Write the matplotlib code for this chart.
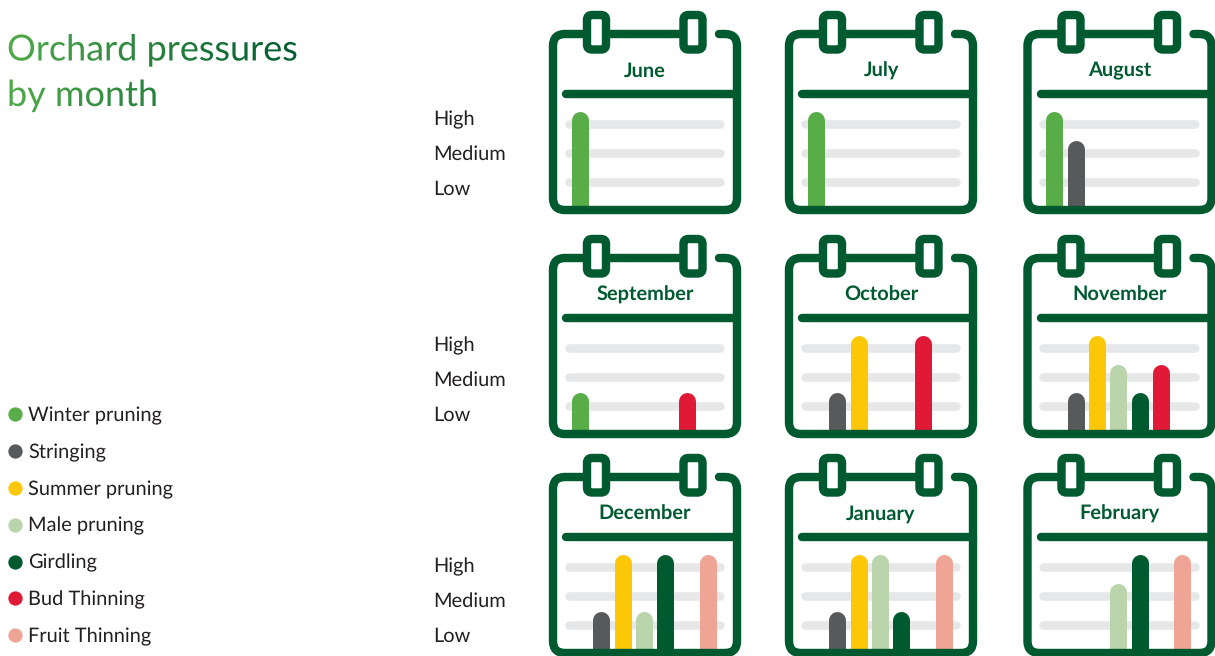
import matplotlib
matplotlib.use("Agg")
import matplotlib.pyplot as plt
from matplotlib.path import Path
from matplotlib.patches import PathPatch, FancyBboxPatch
from matplotlib.patheffects import AbstractPathEffect
from matplotlib.transforms import Bbox, offset_copy
from matplotlib.colors import to_rgb

# ---------- data ----------
tasks = ["Winter pruning", "Stringing", "Summer pruning", "Male pruning",
         "Girdling", "Bud Thinning", "Fruit Thinning"]
task_colors = ["#58ad49", "#58595b", "#fcc707", "#bad4ab", "#005a30", "#e01a36", "#eea596"]
months = ["June", "July", "August", "September", "October", "November",
          "December", "January", "February"]
# pressure per task: 0 none, 1 low, 2 medium, 3 high
june = [3, 0, 0, 0, 0, 0, 0]
july = [3, 0, 0, 0, 0, 0, 0]
august = [3, 2, 0, 0, 0, 0, 0]
september = [1, 0, 0, 0, 0, 1, 0]
october = [0, 1, 3, 0, 0, 3, 0]
november = [0, 1, 3, 2, 1, 2, 0]
december = [0, 1, 3, 1, 3, 0, 3]
january = [0, 1, 3, 3, 1, 0, 3]
february = [0, 0, 0, 2, 3, 0, 3]
month_values = [june, july, august, september, october, november, december, january, february]
level_labels = ["High", "Medium", "Low"]
title_lines = ["Orchard pressures", "by month"]

# ---------- style ----------
W, H = 1215, 656
DARK = "#005a30"
GRID = "#e6e7e8"
TEXT = "#231f20"
FONT = "Lato"
PX = 0.72  # points per pixel at dpi 100
COL_X = [0, 236, 474.5]
ROW_Y = [0, 224, 443]
LABEL_Y = [[125, 160.2, 195], [351, 386.2, 421], [572, 607.2, 642]]

plt.rcParams["font.family"] = [FONT, "DejaVu Sans"]
plt.rcParams["text.hinting"] = "none"
plt.rcParams["text.hinting_factor"] = 1
fig = plt.figure(figsize=(W / 100, H / 100), dpi=100, facecolor="white")
over = fig.add_axes([0, 0, 1, 1], zorder=5)
over.set_xlim(0, W)
over.set_ylim(H, 0)
over.axis("off")
over.patch.set_alpha(0)


class HGradient(AbstractPathEffect):
    """Fill a text with a left-to-right colour gradient."""
    def __init__(self, x0, x1, c0, c1, step=2):
        super().__init__()
        self.x0, self.x1, self.c0, self.c1, self.step = x0, x1, to_rgb(c0), to_rgb(c1), step

    def draw_path(self, renderer, gc, tpath, affine, rgbFace=None):
        ext = tpath.transformed(affine).get_extents()
        x = int(ext.x0) - 1
        while x < ext.x1 + 1:
            t = min(max((x - self.x0) / (self.x1 - self.x0), 0), 1)
            col = tuple(a + (b - a) * t for a, b in zip(self.c0, self.c1))
            g = renderer.new_gc()
            g.copy_properties(gc)
            g.set_clip_rectangle(Bbox.from_extents(x, 0, x + self.step, H))
            renderer.draw_path(g, tpath, affine, col)
            g.restore()
            x += self.step


def calendar_frame(dx, dy):
    M, L, C = Path.MOVETO, Path.LINETO, Path.CURVE3
    pts = [(719, 34), (725, 34), (737, 34), (737, 46), (737, 198), (737, 210), (725, 210),
           (565, 210), (553, 210), (553, 198), (553, 46), (553, 34), (565, 34), (693, 34)]
    codes = [M, L, C, C, L, C, C, L, C, C, L, C, C, L]
    path = Path([(x + dx, y + dy) for x, y in pts], codes)
    over.add_patch(PathPatch(path, fc="none", ec=DARK, lw=8.4 * PX, capstyle="round", joinstyle="round"))
    over.plot([566 + dx, 737 + dx], [94.3 + dy, 94.3 + dy], color=DARK, lw=8.4 * PX, solid_capstyle="round")
    for cx in (596.5, 693):
        over.add_patch(FancyBboxPatch((cx - 9.5 + dx, 15 + dy), 19, 34.5,
                                      boxstyle="round,pad=0,rounding_size=5",
                                      fc="white", ec=DARK, lw=8.4 * PX))


grid_levels = [0.57, 1.57, 2.57]
for i, (name, vals) in enumerate(zip(months, month_values)):
    dx, dy = COL_X[i % 3], ROW_Y[i // 3]
    left, right, top, bottom = 549 + dx, 741 + dx, 30 + dy, 214 + dy
    ax = fig.add_axes([left / W, 1 - bottom / H, (right - left) / W, (bottom - top) / H], zorder=1)
    ax.set_xlim(-1.453, 7.547)
    ax.set_ylim(-0.56, 5.87)
    ax.axis("off")
    for g in grid_levels:
        ax.plot([-0.53, 6.58], [g, g], color=GRID, lw=8.5 * PX, solid_capstyle="round", zorder=1)
    # the round cap tip, not the line end, sits at the value
    tip = offset_copy(ax.transData, fig=fig, y=-7.8, units="dots")
    for k, v in enumerate(vals):
        if v > 0:
            ax.plot([k, k], [-1, v], color=task_colors[k], lw=17 * PX, solid_capstyle="round",
                    transform=tip, zorder=2)
    calendar_frame(dx, dy)
    over.text(645 + dx, 76.5 + dy, name, ha="center", va="baseline", color=DARK,
              fontsize=20.4 * PX, fontweight="bold")

for ys in LABEL_Y:
    for lab, y in zip(level_labels, ys):
        over.text(433.5, y, lab, ha="left", va="baseline", color=TEXT, fontsize=20 * PX)

for i, (t, c) in enumerate(zip(tasks, task_colors)):
    y = 414.3 + i * 36.8
    over.scatter([15], [y], s=(14.3 * PX) ** 2, color=c, linewidths=0)
    over.text(28.5, y + 7, t, ha="left", va="baseline", color=TEXT, fontsize=20.3 * PX)

grad = HGradient(7, 298, "#50aa49", "#005a31")
for line, y in zip(title_lines, [60.5, 106]):
    over.text(7, y, line, ha="left", va="baseline", fontsize=36 * PX, color=DARK, path_effects=[grad])

fig.savefig("out.png", dpi=100)
